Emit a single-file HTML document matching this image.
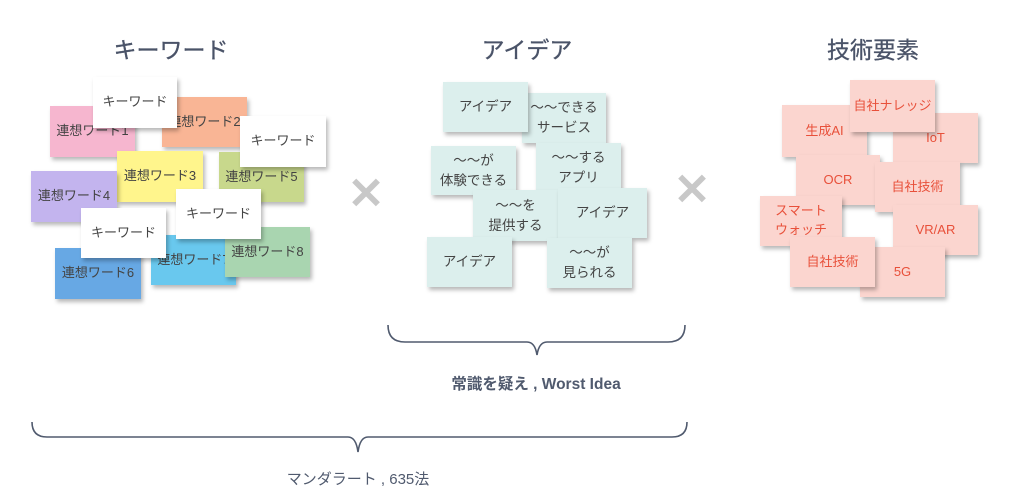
<!DOCTYPE html>
<html><head><meta charset="utf-8"><style>
body{margin:0;width:1024px;height:497px;background:#fff;position:relative;overflow:hidden;font-family:"Liberation Sans","Noto Sans CJK JP",sans-serif}
.b{position:absolute;display:flex;align-items:center;justify-content:center;text-align:center;font-size:13px;color:#444;box-shadow:2px 3px 4px rgba(0,0,0,0.28);line-height:1.45}
.w{background:#fff}
.i{background:#dcefed;color:#444;font-size:13.5px}
.t{background:#fbd5cf;color:#e8503a;font-size:13px}
.h{position:absolute;font-size:23px;color:#4a5368;top:31px;transform:translateX(-50%);white-space:nowrap;-webkit-text-stroke:0.3px #4a5368}
.x{position:absolute;font-size:44px;color:#c8c8c8;font-weight:bold;transform:translate(-50%,-50%)}
.l{position:absolute;font-size:15.5px;color:#505a6e;font-weight:bold;transform:translateX(-50%);white-space:nowrap}
</style></head><body>
<div class="h" style="left:171px">キーワード</div>
<div class="h" style="left:527px">アイデア</div>
<div class="h" style="left:873px">技術要素</div>

<div class="b" style="left:50px;top:106px;width:85px;height:51px;background:#f6b6cf">連想ワード1</div>
<div class="b" style="left:162px;top:97px;width:85px;height:50px;background:#f9b595">連想ワード2</div>
<div class="b w" style="left:93px;top:77px;width:84px;height:51px">キーワード</div>
<div class="b" style="left:219px;top:152px;width:85px;height:50px;background:#c8d88c">連想ワード5</div>
<div class="b w" style="left:240px;top:116px;width:86px;height:51px">キーワード</div>
<div class="b" style="left:117px;top:151px;width:86px;height:51px;background:#fff58c">連想ワード3</div>
<div class="b" style="left:31px;top:171px;width:86px;height:51px;background:#c3b4ee">連想ワード4</div>
<div class="b" style="left:151px;top:235px;width:85px;height:50px;background:#69c8ee">連想ワード7</div>
<div class="b" style="left:225px;top:227px;width:85px;height:50px;background:#a9d5b0">連想ワード8</div>
<div class="b" style="left:55px;top:248px;width:86px;height:51px;background:#67a8e4">連想ワード6</div>
<div class="b w" style="left:81px;top:208px;width:85px;height:50px">キーワード</div>
<div class="b w" style="left:176px;top:189px;width:85px;height:50px">キーワード</div>

<div class="x" style="left:366px;top:194px">✕</div>
<div class="x" style="left:692px;top:190px">✕</div>

<div class="b i" style="left:522px;top:93px;width:84px;height:50px">～～できる<br>サービス</div>
<div class="b i" style="left:443px;top:82px;width:85px;height:50px">アイデア</div>
<div class="b i" style="left:536px;top:143px;width:85px;height:50px">～～する<br>アプリ</div>
<div class="b i" style="left:431px;top:146px;width:85px;height:49px">～～が<br>体験できる</div>
<div class="b i" style="left:473px;top:190px;width:85px;height:51px">～～を<br>提供する</div>
<div class="b i" style="left:558px;top:188px;width:89px;height:50px">アイデア</div>
<div class="b i" style="left:427px;top:237px;width:85px;height:50px">アイデア</div>
<div class="b i" style="left:547px;top:238px;width:85px;height:50px">～～が<br>見られる</div>

<div class="b t" style="left:782px;top:105px;width:85px;height:52px">生成AI</div>
<div class="b t" style="left:893px;top:113px;width:85px;height:50px">IoT</div>
<div class="b t" style="left:850px;top:80px;width:85px;height:52px">自社ナレッジ</div>
<div class="b t" style="left:796px;top:155px;width:84px;height:50px">OCR</div>
<div class="b t" style="left:875px;top:162px;width:85px;height:50px">自社技術</div>
<div class="b t" style="left:893px;top:205px;width:85px;height:50px">VR/AR</div>
<div class="b t" style="left:760px;top:196px;width:82px;height:50px">スマート<br>ウォッチ</div>
<div class="b t" style="left:860px;top:247px;width:85px;height:50px">5G</div>
<div class="b t" style="left:790px;top:237px;width:85px;height:50px">自社技術</div>

<svg style="position:absolute;left:0;top:0" width="1024" height="497">
<g fill="none" stroke="#505a6e" stroke-width="1.6">
<path d="M388 325 Q388 342 405 342 L527 342 Q535 342 537 355 Q539 342 547 342 L668 342 Q685 342 685 325"/>
<path d="M32 422 Q32 437 47 437 L348 437 Q356 437 358 452 Q360 437 368 437 L672 437 Q687 437 687 422"/>
</g></svg>
<div class="l" style="left:536px;top:372px">常識を疑え , Worst Idea</div>
<div class="l" style="left:358px;top:468px;font-weight:normal;font-size:15px">マンダラート , 635法</div>
</body></html>
